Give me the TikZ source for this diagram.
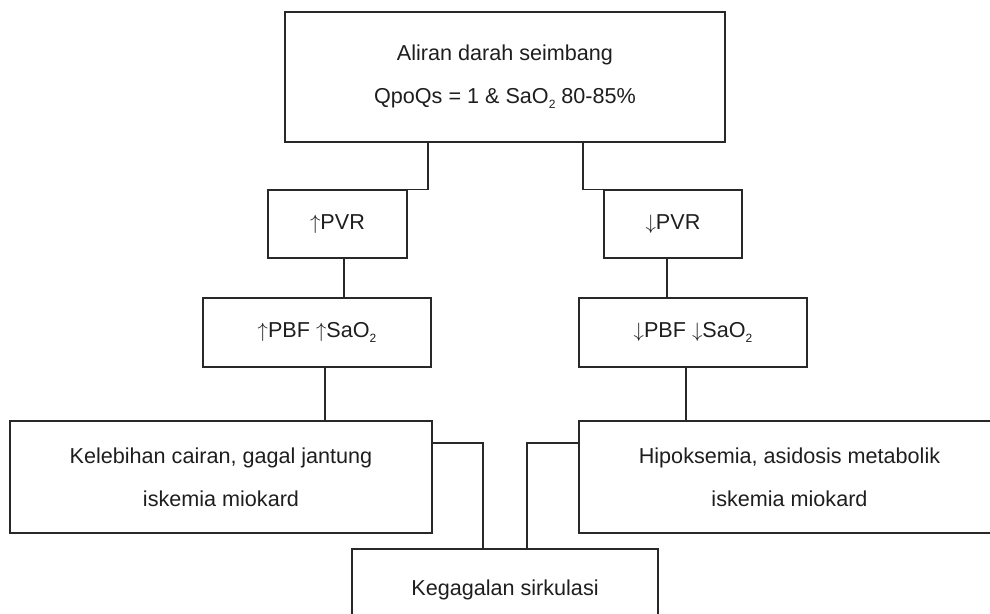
\documentclass[tikz,border=0pt]{standalone}
\usepackage{fontspec}
\setmainfont{Liberation Sans}
\newcommand{\upar}{\ensuremath{\uparrow}}
\newcommand{\dnar}{\ensuremath{\downarrow}}
\newcommand{\subtwo}{\raisebox{-0.45ex}{\fontsize{12}{12}\selectfont 2}}
\begin{document}
\begin{tikzpicture}[x=1pt,y=-1pt,
  box/.style={draw=linecol,line width=1.1pt,rectangle,inner sep=0pt,align=center,
    font=\fontsize{21.6}{43}\selectfont,text=textcol},
  conn/.style={draw=linecol,line width=1.1pt}]
\definecolor{linecol}{RGB}{40,40,40}
\definecolor{textcol}{RGB}{30,30,30}
\useasboundingbox (0,0) rectangle (990,613);
\clip (0,0) rectangle (990,613);
\node[box,minimum width=440pt,minimum height=130pt] (top) at (505,77)
  {Aliran darah seimbang\\QpoQs = 1 \& SaO\subtwo\ 80-85\%};
\node[box,minimum width=139pt,minimum height=68pt] (upPVR) at (337.5,224) {\upar PVR};
\node[box,minimum width=138pt,minimum height=68pt] (dnPVR) at (673,224) {\dnar PVR};
\node[box,minimum width=228pt,minimum height=69pt] (upPBF) at (317,332.5) {\upar PBF \upar SaO\subtwo};
\node[box,minimum width=228pt,minimum height=69pt] (dnPBF) at (693,332.5) {\dnar PBF \dnar SaO\subtwo};
\node[box,minimum width=422pt,minimum height=112pt] (kel) at (221,477)
  {Kelebihan cairan, gagal jantung\\iskemia miokard};
\node[box,minimum width=421pt,minimum height=112pt] (hip) at (789.5,477)
  {Hipoksemia, asidosis metabolik\\iskemia miokard};
\node[box,minimum width=306pt,minimum height=81pt] (keg) at (505,589.5) {Kegagalan sirkulasi};
\draw[conn] ([xshift=-77pt]top.south) |- (upPVR.north east);
\draw[conn] ([xshift=78pt]top.south) |- (dnPVR.north west);
\draw[conn] ([xshift=6.5pt]upPVR.south) -- ([xshift=6.5pt]upPVR.south |- upPBF.north);
\draw[conn] ([xshift=-6pt]dnPVR.south) -- ([xshift=-6pt]dnPVR.south |- dnPBF.north);
\draw[conn] ([xshift=8pt]upPBF.south) -- ([xshift=8pt]upPBF.south |- kel.north);
\draw[conn] ([xshift=-7pt]dnPBF.south) -- ([xshift=-7pt]dnPBF.south |- hip.north);
\draw[conn] ([yshift=34pt]kel.east) -| ([xshift=-22pt]keg.north);
\draw[conn] ([yshift=34pt]hip.west) -| ([xshift=22pt]keg.north);
\end{tikzpicture}
\end{document}
